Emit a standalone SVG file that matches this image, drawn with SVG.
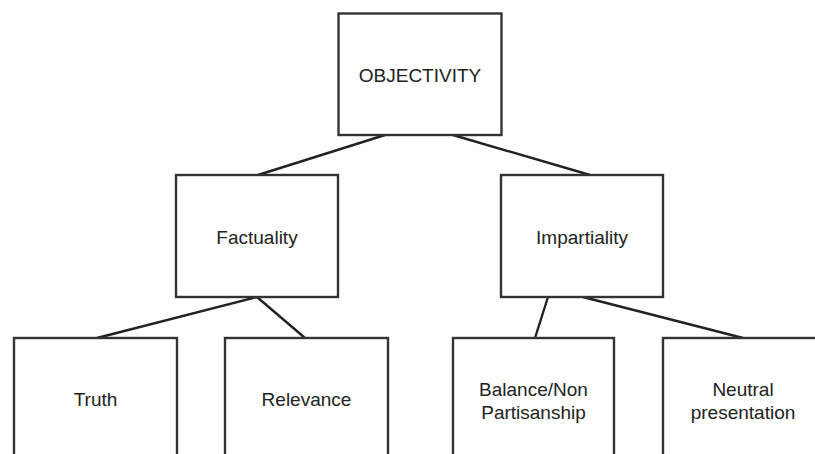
<svg xmlns="http://www.w3.org/2000/svg" width="815" height="454" viewBox="0 0 815 454">
  <style>
    .box { fill: #ffffff; stroke: #333333; stroke-width: 2.4; }
    .edge { fill: none; stroke: #222222; stroke-width: 2.4; }
    .label { font-family: "Liberation Sans", Arial, Helvetica, sans-serif; font-size: 19px; fill: #222222; text-anchor: middle; }
  </style>
  <rect width="815" height="454" fill="#ffffff"/>

  <g id="connectors">
    <line class="edge" x1="385" y1="135" x2="258" y2="175"/>
    <line class="edge" x1="453" y1="135" x2="590" y2="175"/>
    <line class="edge" x1="257" y1="297" x2="97" y2="338"/>
    <line class="edge" x1="257" y1="297" x2="305" y2="338"/>
    <line class="edge" x1="548" y1="297" x2="535" y2="338"/>
    <line class="edge" x1="583" y1="297" x2="743" y2="338"/>
  </g>

  <g id="objectivity">
    <rect class="box" x="338.5" y="13.5" width="163" height="121.5"/>
    <text class="label" x="420" y="81.5">OBJECTIVITY</text>
  </g>

  <g id="factuality">
    <rect class="box" x="176" y="175" width="162" height="122"/>
    <text class="label" x="257" y="243.5">Factuality</text>
  </g>

  <g id="impartiality">
    <rect class="box" x="501" y="175" width="162" height="122"/>
    <text class="label" x="582" y="243.5">Impartiality</text>
  </g>

  <g id="truth">
    <rect class="box" x="14" y="338" width="163" height="130"/>
    <text class="label" x="95.5" y="406">Truth</text>
  </g>

  <g id="relevance">
    <rect class="box" x="225" y="338" width="163" height="130"/>
    <text class="label" x="306.5" y="406">Relevance</text>
  </g>

  <g id="balance">
    <rect class="box" x="453" y="338" width="161" height="130"/>
    <text class="label" x="533.5" y="396">Balance/Non</text>
    <text class="label" x="533.5" y="419">Partisanship</text>
  </g>

  <g id="neutral">
    <rect class="box" x="663" y="338" width="163" height="130"/>
    <text class="label" x="743" y="396">Neutral</text>
    <text class="label" x="743" y="419">presentation</text>
  </g>
</svg>
